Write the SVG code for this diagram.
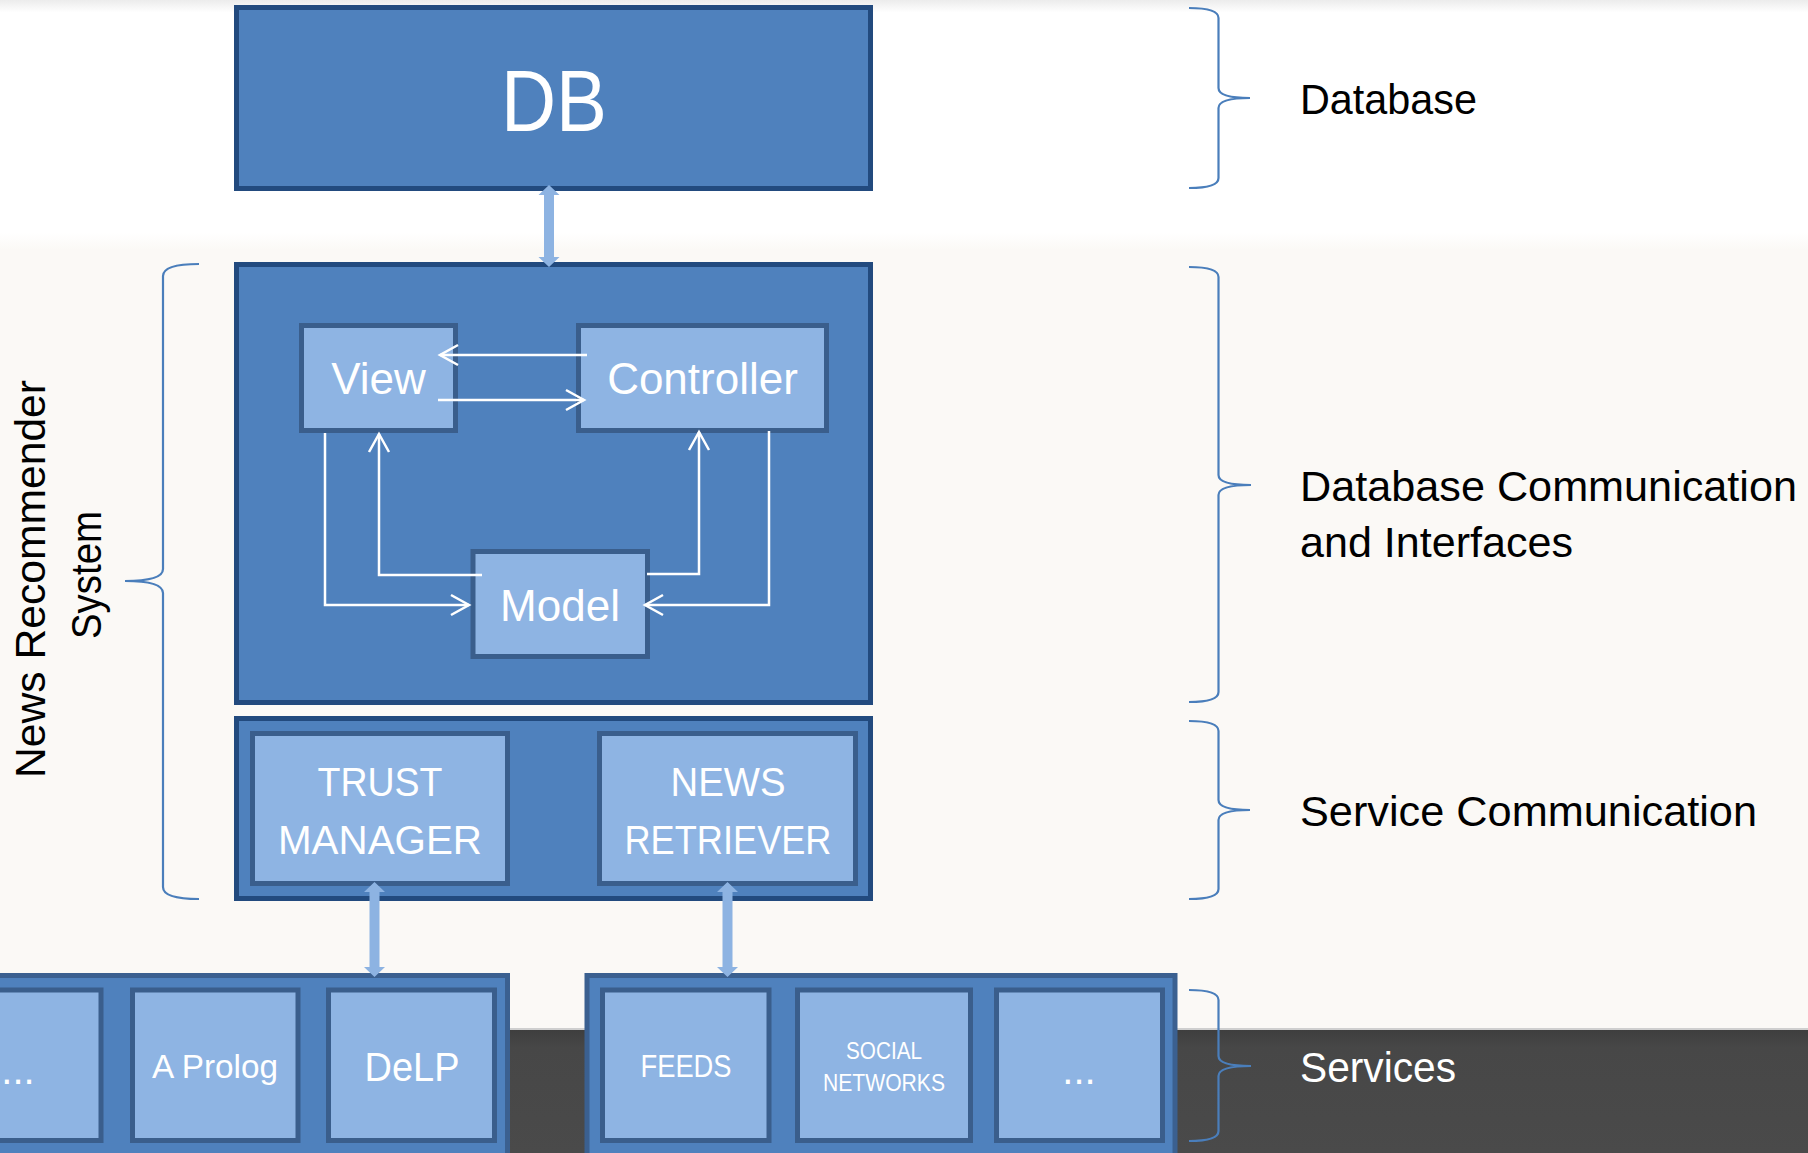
<svg xmlns="http://www.w3.org/2000/svg" width="1808" height="1153" viewBox="0 0 1808 1153">
<defs>
<style>
.bigbox{fill:#4f81bd;stroke:#224a7e;stroke-width:5}
.cont{fill:#4f81bd;stroke:#3b6090;stroke-width:5}
.inner{fill:#8eb4e3;stroke:#3a5e8c;stroke-width:5}
.wt{font-family:"Liberation Sans",Arial,sans-serif;fill:#ffffff;text-anchor:middle}
.lbl{font-family:"Liberation Sans",Arial,sans-serif;fill:#000000;font-size:42px}
.brace{fill:none;stroke:#4a7ebb;stroke-width:2.2}
.flow{fill:none;stroke:#ffffff;stroke-width:2.5}
.dbl{fill:#8db3e2}
</style>
<linearGradient id="topg" x1="0" y1="0" x2="0" y2="1">
<stop offset="0" stop-color="#ececec"/>
<stop offset="0.05" stop-color="#ffffff"/>
<stop offset="0.93" stop-color="#ffffff"/>
<stop offset="1" stop-color="#fbf9f6"/>
</linearGradient>
<linearGradient id="darkg" x1="0" y1="0" x2="0" y2="1">
<stop offset="0" stop-color="#3e3e3e"/>
<stop offset="0.15" stop-color="#474747"/>
<stop offset="1" stop-color="#4a4a4a"/>
</linearGradient>
<marker id="open" markerUnits="userSpaceOnUse" markerWidth="24" markerHeight="24" refX="19" refY="10" orient="auto" overflow="visible">
<path d="M1,0 L19,10 L1,20" fill="none" stroke="#ffffff" stroke-width="2.5"/>
</marker>
</defs>

<g id="background">
<rect x="0" y="0" width="1808" height="1030" fill="#fbf9f6"/>
<rect x="0" y="0" width="1808" height="250" fill="url(#topg)"/>
<rect x="0" y="1029" width="1808" height="124" fill="url(#darkg)"/>
<rect x="0" y="1028" width="1808" height="2" fill="#cfcfcf"/>
</g>

<g id="db">
<rect class="bigbox" x="236.5" y="7.5" width="634" height="181"/>
<text class="wt" x="554" y="131" font-size="87" textLength="106" lengthAdjust="spacingAndGlyphs">DB</text>
</g>

<g id="mvc">
<rect class="bigbox" x="236.5" y="264.5" width="634" height="438"/>
</g>
<g id="view">
<rect class="inner" x="301.5" y="325.5" width="154" height="105"/>
<text class="wt" x="378.5" y="394" font-size="44">View</text>
</g>
<g id="controller">
<rect class="inner" x="578.5" y="325.5" width="248" height="105"/>
<text class="wt" x="702.5" y="394" font-size="44">Controller</text>
</g>
<g id="model">
<rect class="inner" x="473" y="551.5" width="174.5" height="105"/>
<text class="wt" x="560" y="621" font-size="44">Model</text>
</g>

<g id="service-communication">
<rect class="bigbox" x="236.5" y="718.5" width="634" height="180"/>
</g>
<g id="trust-manager">
<rect class="inner" x="252.5" y="733.5" width="255" height="150"/>
<text class="wt" x="380" y="796" font-size="41" textLength="125" lengthAdjust="spacingAndGlyphs">TRUST</text>
<text class="wt" x="380" y="854" font-size="41" textLength="204" lengthAdjust="spacingAndGlyphs">MANAGER</text>
</g>
<g id="news-retriever">
<rect class="inner" x="599.5" y="733.5" width="256" height="150"/>
<text class="wt" x="728" y="796" font-size="41" textLength="115" lengthAdjust="spacingAndGlyphs">NEWS</text>
<text class="wt" x="728" y="854" font-size="41" textLength="207" lengthAdjust="spacingAndGlyphs">RETRIEVER</text>
</g>

<g id="reasoning-services">
<rect class="cont" x="-20" y="975.5" width="527.5" height="200"/>
</g>
<g id="more-reasoners">
<rect class="inner" x="-20" y="990" width="121" height="150.5"/>
<text class="wt" x="18" y="1084" font-size="40">...</text>
</g>
<g id="a-prolog">
<rect class="inner" x="132.5" y="990" width="165.5" height="150.5"/>
<text class="wt" x="215" y="1078" font-size="33" textLength="126" lengthAdjust="spacingAndGlyphs">A Prolog</text>
</g>
<g id="delp">
<rect class="inner" x="328.5" y="990" width="166" height="150.5"/>
<text class="wt" x="412" y="1081" font-size="41" textLength="95" lengthAdjust="spacingAndGlyphs">DeLP</text>
</g>

<g id="news-services">
<rect class="cont" x="587" y="975.5" width="588" height="200"/>
</g>
<g id="feeds">
<rect class="inner" x="602.5" y="990" width="166.5" height="150.5"/>
<text class="wt" x="686" y="1077" font-size="31" textLength="91" lengthAdjust="spacingAndGlyphs">FEEDS</text>
</g>
<g id="social-networks">
<rect class="inner" x="797.5" y="990" width="173" height="150.5"/>
<text class="wt" x="884" y="1059" font-size="24" textLength="76" lengthAdjust="spacingAndGlyphs">SOCIAL</text>
<text class="wt" x="884" y="1091" font-size="24" textLength="122" lengthAdjust="spacingAndGlyphs">NETWORKS</text>
</g>
<g id="more-sources">
<rect class="inner" x="996.5" y="990" width="166" height="150.5"/>
<text class="wt" x="1079" y="1084" font-size="40">...</text>
</g>

<g id="connectors">
<polygon class="dbl" points="549,185 559.5,195 554,195 554,257 559.5,257 549,267 538.5,257 544,257 544,195 538.5,195"/>
<polygon class="dbl" points="374.5,882 385,892 379.5,892 379.5,967 385,967 374.5,977 364,967 369.5,967 369.5,892 364,892"/>
<polygon class="dbl" points="727.5,882 738,892 732.5,892 732.5,967 738,967 727.5,977 717,967 722.5,967 722.5,892 717,892"/>
<path class="flow" d="M587,355 L440,355" marker-end="url(#open)"/>
<path class="flow" d="M438,400 L584,400" marker-end="url(#open)"/>
<path class="flow" d="M325,433 L325,605 L469,605" marker-end="url(#open)"/>
<path class="flow" d="M482,575 L379,575 L379,434" marker-end="url(#open)"/>
<path class="flow" d="M647,574 L699,574 L699,432" marker-end="url(#open)"/>
<path class="flow" d="M769,431 L769,605 L645,605" marker-end="url(#open)"/>
</g>

<g id="label-news-recommender">
<path class="brace" d="M199,264 Q163,264 163,276 L163,569 Q163,581 125,581 Q163,581 163,593 L163,887 Q163,899 199,899"/>
<text class="lbl" text-anchor="middle" transform="translate(45,579) rotate(-90)" textLength="398" lengthAdjust="spacingAndGlyphs">News Recommender</text>
<text class="lbl" text-anchor="middle" transform="translate(101,575) rotate(-90)" textLength="128" lengthAdjust="spacingAndGlyphs">System</text>
</g>

<g id="label-database">
<path class="brace" d="M1189,8 Q1218.5,8 1218.5,18 L1218.5,88 Q1218.5,98 1250,98 Q1218.5,98 1218.5,108 L1218.5,178 Q1218.5,188 1189,188"/>
<text class="lbl" x="1300" y="114" textLength="177" lengthAdjust="spacingAndGlyphs">Database</text>
</g>
<g id="label-db-communication">
<path class="brace" d="M1189,267 Q1218.5,267 1218.5,277 L1218.5,475 Q1218.5,485 1251,485 Q1218.5,485 1218.5,495 L1218.5,692 Q1218.5,702 1189,702"/>
<text class="lbl" x="1300" y="501" textLength="497" lengthAdjust="spacingAndGlyphs">Database Communication</text>
<text class="lbl" x="1300" y="557" textLength="273" lengthAdjust="spacingAndGlyphs">and Interfaces</text>
</g>
<g id="label-service-communication">
<path class="brace" d="M1189,721 Q1218.5,721 1218.5,731 L1218.5,800 Q1218.5,810 1250,810 Q1218.5,810 1218.5,820 L1218.5,889 Q1218.5,899 1189,899"/>
<text class="lbl" x="1300" y="826" textLength="457" lengthAdjust="spacingAndGlyphs">Service Communication</text>
</g>
<g id="label-services">
<path class="brace" d="M1189,990 Q1218.5,990 1218.5,1000 L1218.5,1056 Q1218.5,1066 1251,1066 Q1218.5,1066 1218.5,1076 L1218.5,1131 Q1218.5,1141 1189,1141"/>
<text class="lbl" x="1300" y="1082" style="fill:#ffffff" textLength="156" lengthAdjust="spacingAndGlyphs">Services</text>
</g>
</svg>
